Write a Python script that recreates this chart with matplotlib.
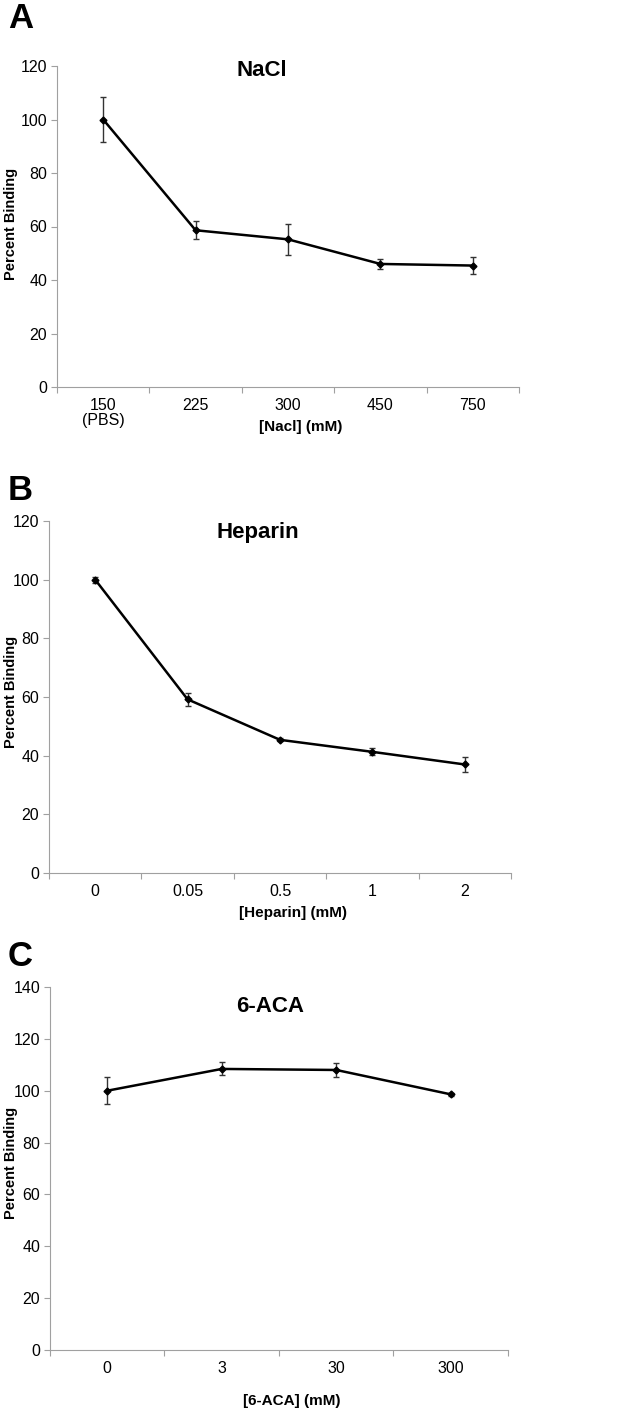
import matplotlib
matplotlib.use("Agg")
import matplotlib.pyplot as plt

# ---------------- data ----------------
nacl_labels = ["150\n(PBS)", "225", "300", "450", "750"]
nacl_values = [100.0, 58.6, 55.2, 46.0, 45.4]
nacl_errors = [8.3, 3.3, 5.8, 2.0, 3.3]

hep_labels = ["0", "0.05", "0.5", "1", "2"]
hep_values = [100.0, 59.2, 45.4, 41.3, 37.0]
hep_errors = [1.0, 2.2, 0.5, 1.2, 2.4]

aca_labels = ["0", "3", "30", "300"]
aca_values = [100.0, 108.4, 108.0, 98.6]
aca_errors = [5.1, 2.5, 2.6, 0.5]

NARROW = ["Liberation Sans Narrow", "Liberation Sans", "DejaVu Sans"]
REG = ["Liberation Sans", "DejaVu Sans"]

fig = plt.figure(figsize=(6.44, 14.12), dpi=100)
W, H = 644.0, 1412.0

panels = [
    dict(rect=(57, 66, 519, 387), labels=nacl_labels, vals=nacl_values, errs=nacl_errors,
         ymax=120, title="NaCl", title_xy=(262, 70), xlabel="[Nacl] (mM)", xlabel_y=427,
         letter="A", letter_y=18, ylab_y=224),
    dict(rect=(49, 521, 511, 873), labels=hep_labels, vals=hep_values, errs=hep_errors,
         ymax=120, title="Heparin", title_xy=(258, 533), xlabel="[Heparin] (mM)", xlabel_y=913,
         letter="B", letter_y=490, ylab_y=692),
    dict(rect=(50, 987, 508, 1350), labels=aca_labels, vals=aca_values, errs=aca_errors,
         ymax=140, title="6-ACA", title_xy=(270, 1007), xlabel="[6-ACA] (mM)", xlabel_y=1401,
         letter="C", letter_y=957, ylab_y=1163),
]

for p in panels:
    l, t, r, b = p["rect"]
    ax = fig.add_axes([l / W, 1 - b / H, (r - l) / W, (b - t) / H])
    n = len(p["labels"])
    x = list(range(n))
    ax.errorbar(x, p["vals"], yerr=p["errs"], color="black", lw=1.8,
                marker="D", ms=3.5, ecolor="#333333", elinewidth=1.0,
                capsize=2.5, capthick=1.0)
    ax.set_xlim(-0.5, n - 0.5)
    ax.set_ylim(0, p["ymax"])
    ax.set_yticks(range(0, p["ymax"] + 1, 20))
    # category boundaries as major ticks, labels as minor
    ax.set_xticks([i - 0.5 for i in range(n + 1)])
    ax.set_xticklabels([])
    ax.set_xticks(x, minor=True)
    ax.set_xticklabels(p["labels"], minor=True, fontsize=11.5, family=NARROW,
                       linespacing=1.0)
    ax.tick_params(axis="x", which="minor", length=0, pad=8)
    ax.tick_params(axis="x", which="major", length=4, color="#a0a0a0", width=0.8)
    ax.tick_params(axis="y", length=4, color="#a0a0a0", width=0.8, pad=3)
    for lab in ax.get_yticklabels():
        lab.set_fontsize(11.5)
        lab.set_family(NARROW)
    for s in ("top", "right"):
        ax.spines[s].set_visible(False)
    for s in ("left", "bottom"):
        ax.spines[s].set_color("#a0a0a0")
        ax.spines[s].set_linewidth(0.8)
    fig.text(11 / W, 1 - p["ylab_y"] / H, "Percent Binding", rotation=90,
             ha="center", va="center", fontsize=10.5, fontweight="bold", family=REG)
    fig.text(p["title_xy"][0] / W, 1 - p["title_xy"][1] / H, p["title"], ha="center",
             va="center", fontsize=16, fontweight="bold", family=NARROW)
    fig.text((l + r) / 2 / W + 0.02, 1 - p["xlabel_y"] / H, p["xlabel"], ha="center",
             va="center", fontsize=11, fontweight="bold", family=NARROW)
    fig.text(8 / W, 1 - p["letter_y"] / H, p["letter"], ha="left", va="center",
             fontsize=25, fontweight="bold", family=REG)

fig.savefig("out.png", dpi=100)
